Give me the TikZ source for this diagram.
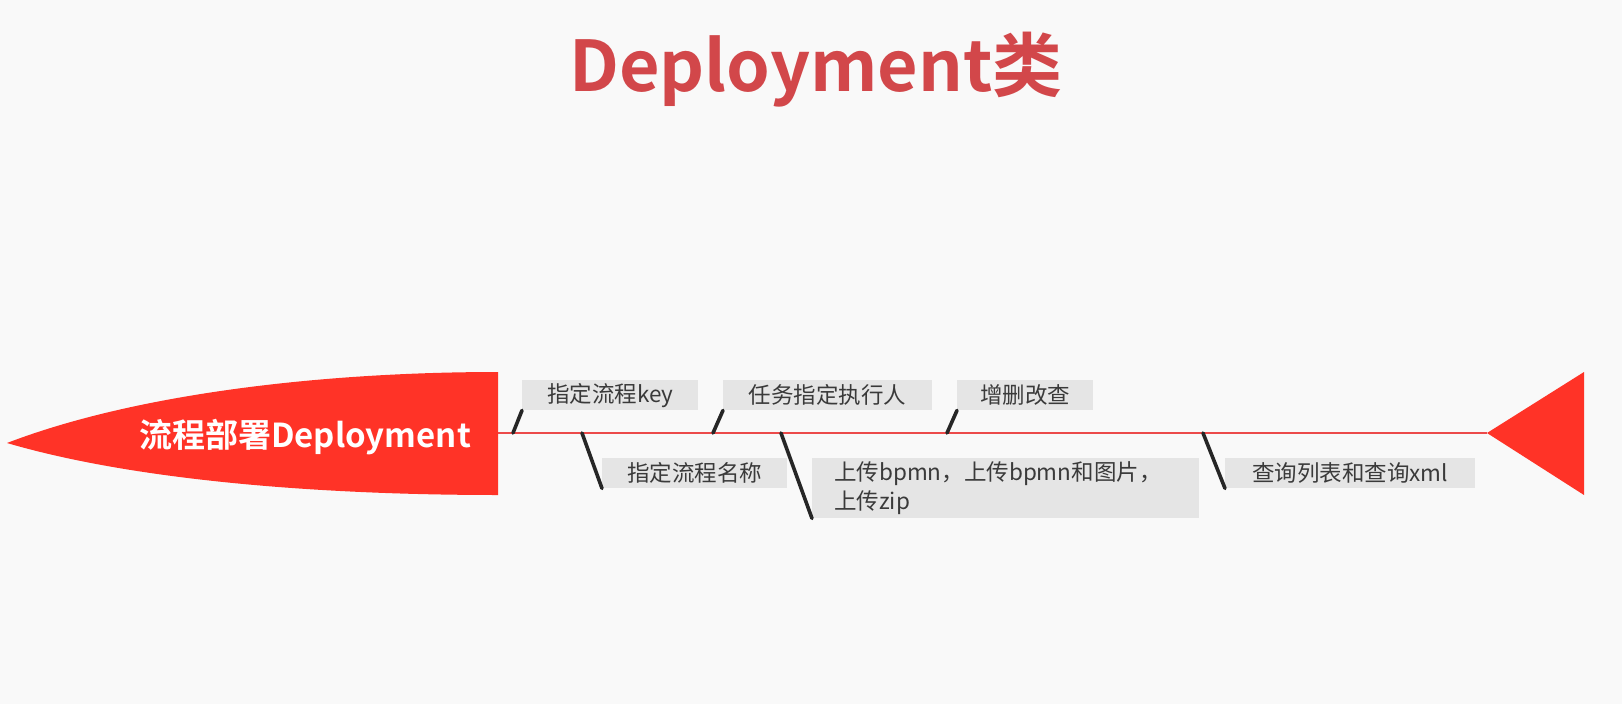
\documentclass[tikz,border=0pt]{standalone}
\usepackage{fontspec}
\setmainfont{Noto Sans CJK SC}
\newfontfamily\boldcjk{Noto Sans CJK SC Bold}
\definecolor{bgc}{HTML}{F9F9F9}
\definecolor{redfill}{HTML}{FF3327}
\definecolor{titlec}{HTML}{D2474A}
\definecolor{spinec}{HTML}{EC4A4A}
\definecolor{boxc}{HTML}{E5E5E5}
\definecolor{txtc}{HTML}{3A3A3A}
\definecolor{tickc}{HTML}{262626}
\begin{document}
\begin{tikzpicture}[x=1pt,y=-1pt,
  lbl/.style={fill=boxc, text=txtc, font=\fontsize{22.5}{29}\selectfont, anchor=north west, inner sep=0pt, minimum height=30pt},
  tickline/.style={draw=tickc, line width=3.6pt, line cap=round},
  spineline/.style={draw=spinec, line width=2.2pt}]
\fill[bgc] (0,0) rectangle (1622,704);
\useasboundingbox (0,0) rectangle (1622,704);
% title
\node[anchor=base, text=titlec, font=\boldcjk\fontsize{70}{80}\selectfont, inner sep=0pt] (title) at (816,91) {Deployment类};
% head shape
\fill[redfill] (7,443) .. controls (140,392) and (330,372) .. (498,372) -- (498,495) .. controls (330,495) and (140,482) .. (7,443) -- cycle;
\coordinate (sL) at (498,433);
\coordinate (sR) at (1487,433);
\node[anchor=base, text=white, font=\boldcjk\fontsize{33}{36}\selectfont, inner sep=0pt] (head) at (305,447) {流程部署Deployment};
% spine
\draw[spineline] (sL) -- (sR);
% tail triangle
\fill[redfill] (sR) -- (1584,372) -- (1584,495) -- cycle;
% boxes
\node[lbl, minimum width=176pt] (b1) at (522,380) {指定流程key};
\node[lbl, minimum width=209pt] (b2) at (723,380) {任务指定执行人};
\node[lbl, minimum width=136pt] (b3) at (957,380) {增删改查};
\node[lbl, minimum width=185pt] (b4) at (602,458) {指定流程名称};
\node[lbl, minimum width=387pt, minimum height=60pt, text width=343pt, inner xsep=22pt, align=left] (b5) at (812,458) {\raisebox{-4pt}{\parbox{343pt}{上传bpmn，上传bpmn和图片，\\上传zip}}};
\node[lbl, minimum width=250pt] (b6) at (1225,458) {查询列表和查询xml};
% tick points on spine
\coordinate (t1) at (513,433);
\coordinate (t2) at (713,433);
\coordinate (t3) at (947,433);
\coordinate (t4) at (582,433);
\coordinate (t5) at (781,433);
\coordinate (t6) at (1203,433);
\draw[tickline] (t1) -- (b1.south west);
\draw[tickline] (t2) -- (b2.south west);
\draw[tickline] (t3) -- (b3.south west);
\draw[tickline] (t4) -- (b4.south west);
\draw[tickline] (t5) -- (b5.south west);
\draw[tickline] (t6) -- (b6.south west);
\end{tikzpicture}
\end{document}
